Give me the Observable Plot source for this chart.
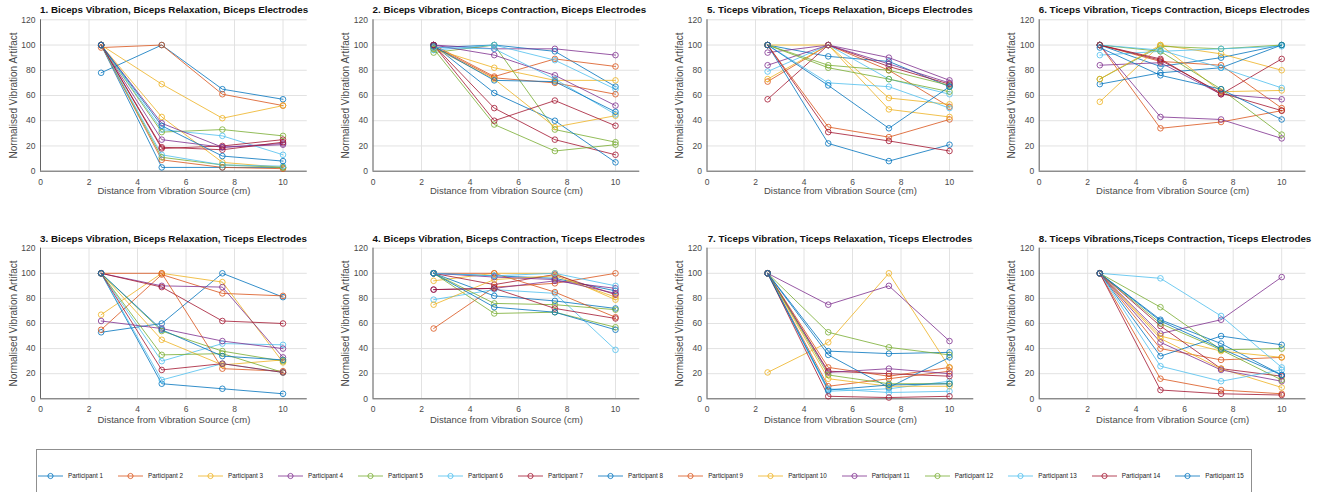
<!DOCTYPE html>
<html><head><meta charset="utf-8">
<script src="https://cdn.jsdelivr.net/npm/d3@7"></script>
<script src="https://cdn.jsdelivr.net/npm/@observablehq/plot@0.6"></script>
<style>
html,body{margin:0;padding:0;background:#fff;}
body{width:1317px;height:492px;overflow:hidden;position:relative;font-family:"Liberation Sans",Arial,Helvetica,sans-serif;}
.title{position:absolute;text-align:center;font-weight:bold;font-size:9.8px;line-height:12px;color:#111;white-space:nowrap;z-index:2;}
.panel{position:absolute;}
#legend{position:absolute;left:36px;top:449px;width:1216px;height:60px;border:1px solid #8f8f8f;box-sizing:border-box;background:#fff;}
#legend .items{position:absolute;left:1px;top:21px;display:flex;gap:15px;align-items:center;}
.item{display:flex;align-items:center;font-size:6.3px;line-height:10px;color:#222;white-space:nowrap;}
.item svg{margin-right:5px;display:block;}
</style></head><body>
<script>
// ---------- data ----------
const distances = [2.5, 5, 7.5, 10];
const participants = Array.from({length: 15}, (_, i) => `Participant ${i + 1}`);
const xTicks = [0, 2, 4, 6, 8, 10];
const yTicks = [0, 20, 40, 60, 80, 100, 120];
const xLabel = "Distance from Vibration Source (cm)";
const yLabel = "Normalised Vibration Artifact";
const palette = ["#0072BD", "#D95319", "#EDB120", "#7E2F8E", "#77AC30", "#4DBEEE", "#A2142F"];

const title1 = "1. Biceps Vibration, Biceps Relaxation, Biceps Electrodes";
const title2 = "2. Biceps Vibration, Biceps Contraction, Biceps Electrodes";
const title3 = "3. Biceps Vibration, Biceps Relaxation, Ticeps Electrodes";
const title4 = "4. Biceps Vibration, Biceps Contraction, Ticeps Electrodes";
const title5 = "5. Ticeps Vibration, Ticeps Relaxation, Biceps Electrodes";
const title6 = "6. Ticeps Vibration, Ticeps Contraction, Biceps Electrodes";
const title7 = "7. Ticeps Vibration, Ticeps Relaxation, Ticeps Electrodes";
const title8 = "8. Ticeps Vibrations,Ticeps Contraction, Ticeps Electrodes";

// one row per participant, values at distances 2.5, 5, 7.5, 10 cm
const panel1 = [
  [78,100,65,57],[98,100,61,52],[100,69,42,52],[100,25,19,21],[100,31,33,28],
  [100,33,28,13],[100,18,20,25],[100,3,3,3],[100,9,3,2],[100,43,7,3],
  [100,38,19,22],[100,11,5,3],[100,13,5,4],[100,19,17,23],[100,36,12,8]
];
const panel2 = [
  [98,100,95,67],[100,75,89,83],[97,82,72,72],[100,97,97,92],[94,100,33,23],
  [96,100,88,65],[100,50,25,13],[100,62,40,7],[99,74,70,61],[98,73,35,44],
  [100,92,76,52],[97,37,16,21],[98,97,73,45],[100,40,56,36],[99,72,71,47]
];
const panel3 = [
  [53,60,100,81],[55,99,84,82],[67,100,93,29],[100,90,89,33],[100,54,38,30],
  [100,30,44,43],[100,89,62,60],[100,12,8,4],[100,100,24,22],[100,47,27,31],
  [62,56,46,40],[100,35,36,21],[100,15,28,21],[100,23,28,21],[100,55,34,31]
];
const panel4 = [
  [100,98,96,86],[56,89,92,100],[94,100,100,79],[87,88,94,88],[100,68,69,57],
  [79,87,84,39],[100,91,99,83],[100,82,78,72],[100,100,85,65],[75,95,98,81],
  [100,97,95,84],[100,76,75,71],[100,98,100,90],[87,88,72,64],[100,73,69,55]
];
const panel5 = [
  [100,91,87,67],[71,100,80,51],[73,100,58,53],[94,100,90,72],[100,84,80,68],
  [79,100,73,61],[57,100,83,69],[100,22,8,21],[100,35,27,41],[100,100,49,43],
  [84,100,85,70],[100,82,73,63],[100,70,67,50],[100,31,24,16],[100,68,34,67]
];
const panel6 = [
  [100,83,90,100],[100,87,84,50],[55,100,93,80],[84,86,61,57],[73,99,97,100],
  [92,95,97,99],[100,89,61,89],[69,78,82,100],[100,34,39,48],[73,100,63,64],
  [100,43,41,26],[100,95,65,29],[100,96,82,66],[100,88,62,48],[98,76,65,41]
];
const panel7 = [
  [100,38,36,37],[100,25,18,25],[21,45,100,25],[100,75,90,46],[100,53,41,35],
  [100,6,8,14],[100,22,20,18],[100,35,9,33],[100,10,16,22],[100,16,10,10],
  [100,21,24,20],[100,19,12,12],[100,8,5,6],[100,2,1,2],[100,7,11,12]
];
const panel8 = [
  [100,63,44,19],[100,40,31,33],[100,50,38,33],[100,52,63,97],[100,73,39,40],
  [100,96,66,25],[100,58,24,18],[100,34,50,43],[100,16,7,4],[100,48,24,9],
  [100,45,23,14],[100,60,39,15],[100,26,14,23],[100,7,4,3],[100,62,40,19]
];

// ---------- layout ----------
const FONT = '"Liberation Sans", Arial, Helvetica, sans-serif';
const rowsCfg = [
  {top: 15, mt: 4.3, mb: 34.3, titleY: 10, xlabDy: 22.6},
  {top: 244, mt: 3.7, mb: 35.7, titleY: 238.5, xlabDy: 24}
];
const colsCfg = [
  {left: 0, off: 40}, {left: 330, off: 42.5}, {left: 660, off: 46.5}, {left: 987, off: 51.7}
];
const frameW = 266.75, svgW = 330, svgH = 190;
const panels = [
  {data: panel1, title: title1, r: 0, c: 0},
  {data: panel2, title: title2, r: 0, c: 1},
  {data: panel5, title: title5, r: 0, c: 2},
  {data: panel6, title: title6, r: 0, c: 3},
  {data: panel3, title: title3, r: 1, c: 0},
  {data: panel4, title: title4, r: 1, c: 1},
  {data: panel7, title: title7, r: 1, c: 2},
  {data: panel8, title: title8, r: 1, c: 3}
];
const colorRange = participants.map((_, i) => palette[i % palette.length]);

for (const p of panels) {
  const R = rowsCfg[p.r], C = colsCfg[p.c];
  const rows = [];
  p.data.forEach((vals, i) => vals.forEach((v, j) => rows.push({p: participants[i], d: distances[j], v})));

  const t = document.createElement("div");
  t.className = "title";
  t.textContent = p.title;
  t.style.left = (C.left + C.off) + "px";
  t.style.width = frameW + "px";
  t.style.top = (R.titleY - 6) + "px";
  document.body.appendChild(t);

  const chart = Plot.plot({
    width: svgW, height: svgH,
    marginLeft: C.off, marginRight: svgW - C.off - frameW,
    marginTop: R.mt, marginBottom: R.mb,
    x: {domain: [0, 11], label: null},
    y: {domain: [0, 120], label: null},
    color: {domain: participants, range: colorRange},
    style: {fontFamily: FONT, fontSize: "8.5px", color: "#4a4a4a", background: "white", overflow: "visible"},
    marks: [
      Plot.gridX(xTicks, {stroke: "#e2e2e2", strokeOpacity: 1}),
      Plot.gridY(yTicks, {stroke: "#e2e2e2", strokeOpacity: 1}),
      Plot.ruleX([0], {stroke: "#555", strokeWidth: 0.9}),
      Plot.ruleY([0], {stroke: "#555", strokeWidth: 0.9}),
      Plot.axisX(xTicks, {tickSize: 0, tickPadding: 7.5, label: null, fill: "#4a4a4a"}),
      Plot.axisY(yTicks, {tickSize: 0, tickPadding: 5, label: null, fill: "#4a4a4a"}),
      Plot.line(rows, {x: "d", y: "v", z: "p", stroke: "p", strokeWidth: 0.8}),
      Plot.dot(rows, {x: "d", y: "v", stroke: "p", fill: "none", r: 2.8, strokeWidth: 0.8}),
      Plot.text([xLabel], {text: d => d, frameAnchor: "bottom", textAnchor: "middle", dy: R.xlabDy, fontSize: 9.5, fill: "#4a4a4a"}),
      Plot.text([yLabel], {text: d => d, frameAnchor: "left", textAnchor: "middle", dx: -27, rotate: -90, fontSize: 10, fill: "#4a4a4a"})
    ]
  });
  chart.classList.add("panel");
  chart.style.left = C.left + "px";
  chart.style.top = R.top + "px";
  document.body.appendChild(chart);
}

// ---------- legend ----------
const legend = document.createElement("div");
legend.id = "legend";
const items = document.createElement("div");
items.className = "items";
participants.forEach((name, i) => {
  const it = document.createElement("div");
  it.className = "item";
  const c = colorRange[i];
  it.innerHTML = `<svg width="25" height="10"><line x1="0" y1="5" x2="25" y2="5" stroke="${c}" stroke-width="0.8"/><circle cx="12.5" cy="5" r="2.6" fill="none" stroke="${c}" stroke-width="0.8"/></svg><span>${name}</span>`;
  items.appendChild(it);
});
legend.appendChild(items);
document.body.appendChild(legend);
</script>
</body></html>
